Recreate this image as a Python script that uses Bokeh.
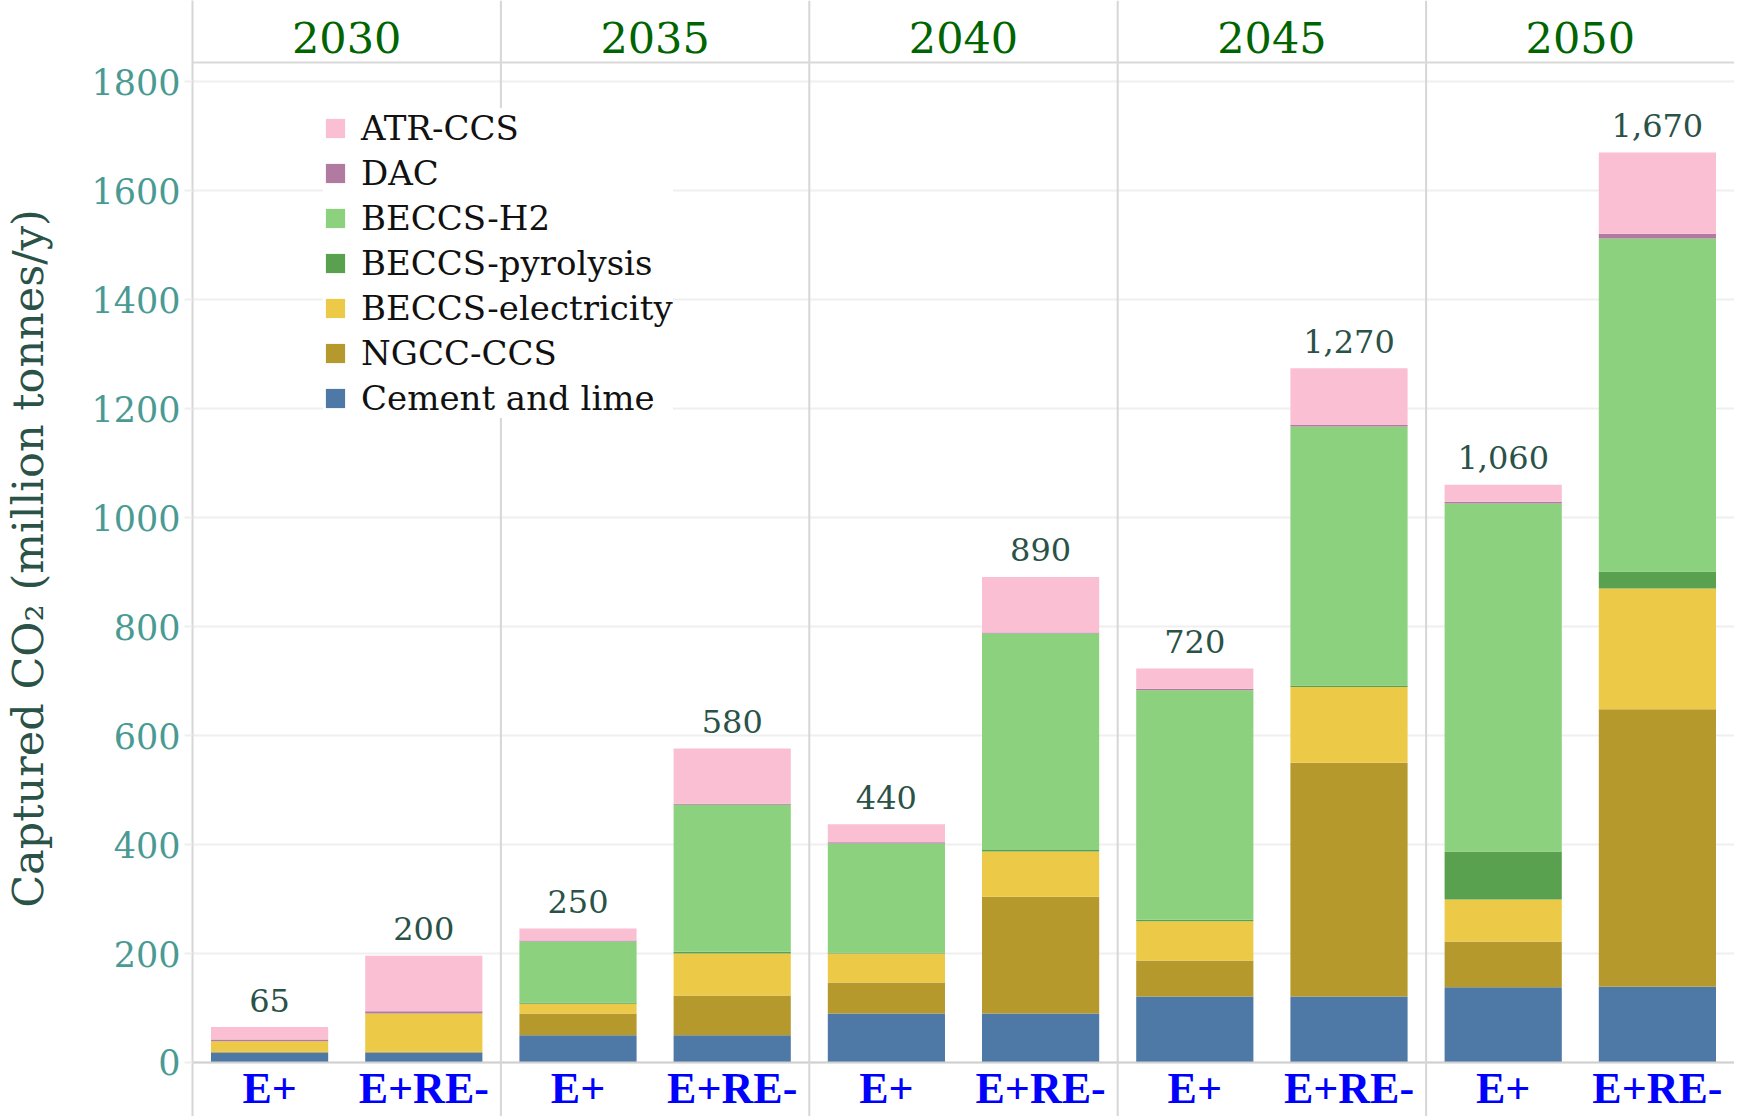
from bokeh.plotting import figure
from bokeh.models import (ColumnDataSource, FactorRange, Range1d,
                          FixedTicker, Span, Legend, LegendItem, CustomJSTickFormatter)
from bokeh.core.properties import value
from bokeh.embed import file_html
from bokeh.resources import INLINE

# ---------------- data ----------------
years = ["2030", "2035", "2040", "2045", "2050"]
scenarios = ["E+", "E+RE-"]

series_names = ["Cement and lime", "NGCC-CCS", "BECCS-electricity",
                "BECCS-pyrolysis", "BECCS-H2", "DAC", "ATR-CCS"]

# order of values: 2030 E+, 2030 E+RE-, 2035 E+, 2035 E+RE-, ... 2050 E+RE-
cement = [18, 18, 50, 50, 90, 90, 121, 121, 138, 139]
ngcc = [2, 2, 40, 73, 57, 214, 66, 429, 84, 509]
beccs_elec = [19, 70, 18, 77, 53, 83, 72, 139, 77, 222]
beccs_pyro = [0, 0, 2, 3, 2, 3, 3, 3, 88, 31]
beccs_h2 = [0, 0, 112, 270, 200, 397, 421, 475, 639, 611]
dac = [3, 4, 2, 2, 2, 2, 3, 3, 3, 9]
atr = [23, 102, 22, 101, 33, 102, 37, 104, 31, 149]

total_labels = ["65", "200", "250", "580", "440", "890", "720", "1,270", "1,060", "1,670"]

y_ticks = [0, 200, 400, 600, 800, 1000, 1200, 1400, 1600, 1800]

colors = ["#4e79a7", "#b6992d", "#edc948", "#59a14f", "#8cd17d", "#b07aa1", "#fabfd2"]

# ---------------- layout constants ----------------
Y_MIN, Y_MAX = -99.1, 1948.8     # room for the footer labels and the year header
HEADER_Y = 1835                  # data level of the header rule

SERIF = "DejaVu Serif"
GRID = "#d6d6d6"

# ---------------- figure ----------------
factors = [f"{y} {s}" for y in years for s in scenarios]
values = [cement, ngcc, beccs_elec, beccs_pyro, beccs_h2, dac, atr]
data = {"x": factors}
for name, vals in zip(series_names, values):
    data[name] = vals
data["total"] = [sum(v[i] for v in values) for i in range(len(factors))]
data["label"] = total_labels
source = ColumnDataSource(data)

x_range = FactorRange(*factors, factor_padding=0, range_padding=0)
p = figure(x_range=x_range, y_range=Range1d(Y_MIN, Y_MAX),
           width=1734, height=1116, output_backend="svg", toolbar_location=None,
           min_border_left=0, min_border_right=0, min_border_top=0,
           min_border_bottom=0)
p.extra_x_ranges = {"years": FactorRange(*years, factor_padding=0, range_padding=0)}
p.outline_line_color = None
p.background_fill_color = "white"

renderers = p.vbar_stack(series_names, x="x", width=0.76, source=source,
                         color=colors, line_color=None)

# facet separators and header rule
n_s = len(scenarios)
for k in range(1, len(years)):
    p.add_layout(Span(location=k * n_s, dimension="height",
                      line_color=GRID, line_width=2))
p.add_layout(Span(location=HEADER_Y, dimension="width",
                  line_color="#d9d9d9", line_width=2))

# year headers
year_src = ColumnDataSource({"year": years, "y": [HEADER_Y] * len(years)})
p.text(x="year", y="y", text="year", source=year_src, x_range_name="years",
       text_align="center", text_baseline="middle", y_offset=-25,
       text_font=value(SERIF), text_font_size="43px", text_color="#006400")

# total labels above the bars
p.text(x="x", y="total", text="label", source=source, text_align="center",
       text_baseline="middle", y_offset=-27, text_font=value(SERIF),
       text_font_size="32px", text_color="#2a5247")

# y axis
yax = p.yaxis[0]
yax.ticker = FixedTicker(ticks=y_ticks)
yax.axis_label = "Captured CO\u2082 (million tonnes/y)"
yax.axis_label_text_font = SERIF
yax.axis_label_text_font_style = "normal"
yax.axis_label_text_font_size = "43px"
yax.axis_label_text_color = "#2a5247"
yax.axis_label_standoff = 35
yax.major_label_text_font = SERIF
yax.major_label_text_font_size = "35px"
yax.major_label_text_color = "#4a9a94"
yax.major_label_standoff = 4
yax.axis_line_color = GRID
yax.axis_line_width = 2
yax.major_tick_line_color = "#eeeeee"
yax.major_tick_line_width = 2
yax.major_tick_out = 8
yax.major_tick_in = 0
yax.minor_tick_line_color = None

p.ygrid.grid_line_color = "#efefef"
p.ygrid.grid_line_width = 2
p.xgrid.grid_line_color = None

# bottom axis (scenario labels), drawn at y = 0; shows only the scenario part
xax = p.xaxis[0]
xax.fixed_location = 0
xax.formatter = CustomJSTickFormatter(code="return String(tick).slice(String(tick).indexOf(' ') + 1);")
xax.major_label_text_font = "Liberation Serif"
xax.major_label_text_font_style = "bold"
xax.major_label_text_font_size = "44px"
xax.major_label_text_color = "#0000ff"
xax.major_label_standoff = -4
xax.axis_line_color = "#d0d0d0"
xax.axis_line_width = 2
xax.major_tick_line_color = None
xax.minor_tick_line_color = None

# legend (top-down order as in reference)
items = [LegendItem(label=name, renderers=[r])
         for name, r in zip(series_names[::-1], renderers[::-1])]
legend = Legend(items=items, location=(131, 698),
                label_text_font=SERIF, label_text_font_size="34px",
                label_text_color="#111111",
                glyph_width=24, glyph_height=24, label_height=40,
                spacing=5, padding=10, margin=0, label_standoff=14,
                border_line_color=None, background_fill_color="white",
                background_fill_alpha=1.0)
p.add_layout(legend)

open("out.html", "w").write(file_html(p, INLINE))
